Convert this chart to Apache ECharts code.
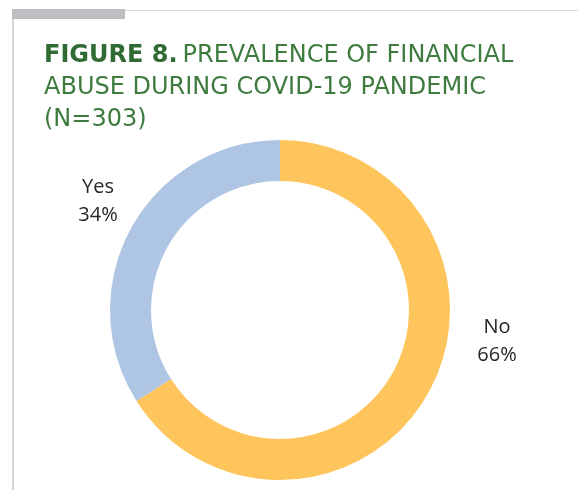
<!DOCTYPE html>
<html>
<head>
  <meta charset="utf-8">
  <title>Figure 8</title>
  <script src="https://cdn.jsdelivr.net/npm/echarts@6/dist/echarts.min.js"></script>
</head>
<body style="margin:0;background:#fff">
<div id="main" style="width:578px;height:490px"></div>
<script type="text/javascript">
  // data
  var categories = ['No', 'Yes'];
  var shares = [66, 34];
  var colors = ['#FEC55C', '#AFC5E4'];
  // where each label sits (px)
  var labelPos = [[497, 341], [98, 201]];

  var myChart = echarts.init(document.getElementById('main'));

  var option = {
    animation: false,
    title: {
      left: 39,
      top: 35,
      text: '{b|FIGURE 8.} {r|PREVALENCE OF FINANCIAL}\n{r|ABUSE DURING COVID-19 PANDEMIC}\n{r|(N=303)}',
      textStyle: {
        rich: {
          b: { fontFamily: 'DejaVu Sans', fontWeight: 'bold', fontSize: 24, color: '#2F6B33', lineHeight: 32 },
          r: { fontFamily: 'DejaVu Sans', fontWeight: 'normal', fontSize: 24, color: '#3E7B3F', lineHeight: 32 }
        }
      }
    },
    graphic: [
      { type: 'line', shape: { x1: 12, y1: 10.5, x2: 578, y2: 10.5 }, style: { stroke: '#D9D9D9', lineWidth: 1 } },
      { type: 'line', shape: { x1: 13, y1: 10, x2: 13, y2: 490 }, style: { stroke: '#D6D6D6', lineWidth: 2 } },
      { type: 'rect', shape: { x: 12, y: 9, width: 113, height: 10 }, style: { fill: '#BDBEC2' } }
    ],
    series: [{
      type: 'pie',
      center: [280, 310],
      radius: [129, 170],
      startAngle: 90,
      clockwise: true,
      silent: true,
      label: {
        show: true,
        position: 'outside',
        formatter: '{b}\n{d}%',
        fontFamily: 'Open Sans',
        fontSize: 20,
        lineHeight: 28,
        color: '#262626'
      },
      labelLine: { show: false },
      labelLayout: function (params) {
        var p = labelPos[params.dataIndex];
        return { x: p[0], y: p[1], align: 'center', verticalAlign: 'middle' };
      },
      data: categories.map(function (c, i) {
        return { name: c, value: shares[i], itemStyle: { color: colors[i] } };
      })
    }]
  };
  myChart.setOption(option);
</script>
</body>
</html>
